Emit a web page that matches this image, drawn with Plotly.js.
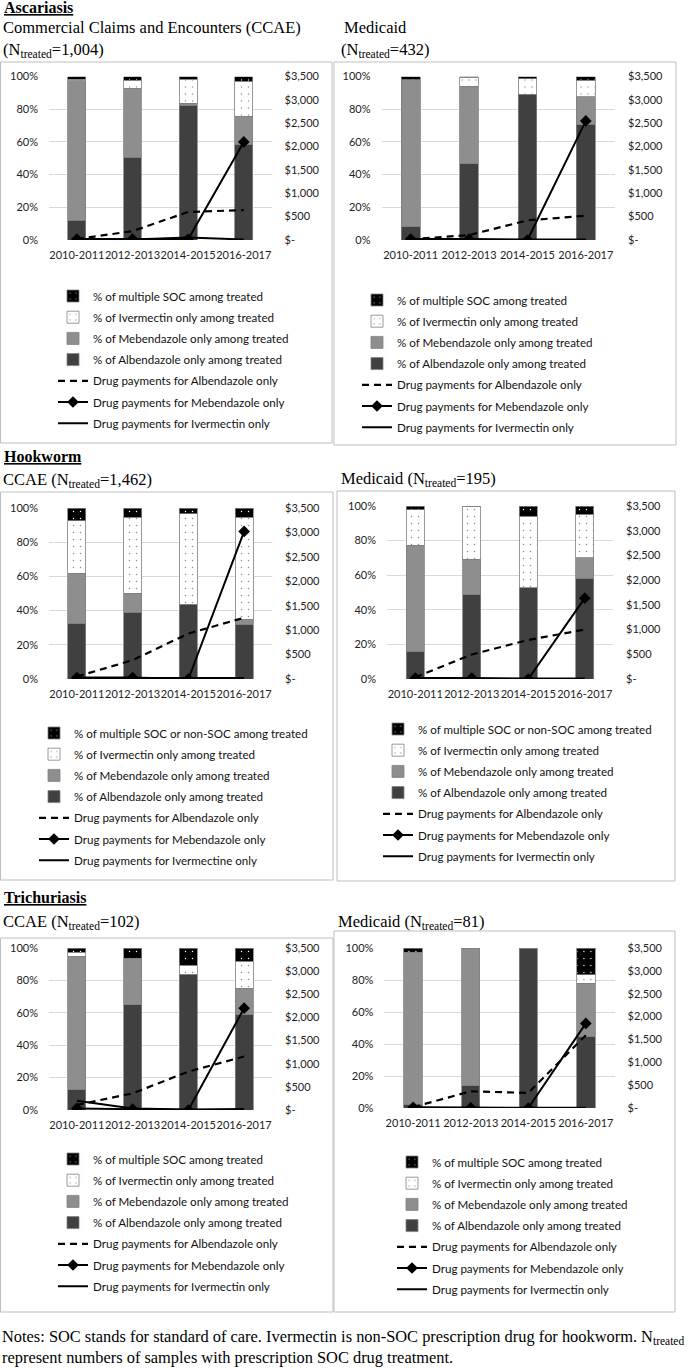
<!DOCTYPE html>
<html><head><meta charset="utf-8">
<script src="https://cdn.plot.ly/plotly-3.0.1.min.js"></script>
<style>html,body{margin:0;padding:0;background:#fff}#chart{width:693px;height:1371px}</style>
</head><body><div id="chart"></div>
<script>
// ---------- categories and tick labels ----------
const periods = ['2010-2011', '2012-2013', '2014-2015', '2016-2017'];
const pctTicks = [0, 20, 40, 60, 80, 100];
const pctLabels = ['0%', '20%', '40%', '60%', '80%', '100%'];
const usdTicks = [0, 500, 1000, 1500, 2000, 2500, 3000, 3500];
const usdLabels = ['$-', '$500', '$1,000', '$1,500', '$2,000', '$2,500', '$3,000', '$3,500'];

// ---------- Ascariasis: CCAE ----------
const ascCcaeAlbPct  = [12.0, 50.5, 82.5, 58.5];
const ascCcaeMebPct  = [85.5, 42.2, 1.0, 17.1];
const ascCcaeIvmPct  = [0.8, 5.1, 14.9, 21.5];
const ascCcaeMultPct = [1.7, 2.2, 1.6, 2.9];
const ascCcaeAlbPay  = [20, 190, 600, 640];
const ascCcaeMebPay  = [20, 20, 15, 2100];
const ascCcaeIvmPay  = [10, 10, 55, 10];

// ---------- Ascariasis: Medicaid ----------
const ascMcdAlbPct  = [8.0, 46.6, 89.0, 70.9];
const ascMcdMebPct  = [90.0, 47.5, 0, 16.7];
const ascMcdIvmPct  = [0, 5.5, 9.6, 10.2];
const ascMcdMultPct = [2.0, 0.4, 1.4, 2.2];
const ascMcdAlbPay  = [15, 105, 420, 520];
const ascMcdMebPay  = [20, 20, 0, 2550];
const ascMcdIvmPay  = [10, 10, 10, 10];

// ---------- Hookworm: CCAE ----------
const hookCcaeAlbPct  = [32.5, 39.1, 43.6, 32.1];
const hookCcaeMebPct  = [29.3, 11.0, 0, 2.9];
const hookCcaeIvmPct  = [30.8, 44.6, 53.1, 59.7];
const hookCcaeMultPct = [7.4, 5.3, 3.3, 5.3];
const hookCcaeAlbPay  = [50, 385, 930, 1255];
const hookCcaeMebPay  = [30, 30, 0, 3020];
const hookCcaeIvmPay  = [20, 20, 20, 20];

// ---------- Hookworm: Medicaid ----------
const hookMcdAlbPct  = [16.1, 48.8, 52.7, 58.2];
const hookMcdMebPct  = [61.1, 20.3, 0, 12.0];
const hookMcdIvmPct  = [20.7, 30.9, 41.3, 24.9];
const hookMcdMultPct = [2.1, 0, 6.0, 4.9];
const hookMcdAlbPay  = [35, 495, 790, 1000];
const hookMcdMebPay  = [20, 20, 0, 1635];
const hookMcdIvmPay  = [10, 10, 10, 10];

// ---------- Trichuriasis: CCAE ----------
const triCcaeAlbPct  = [12.4, 65.0, 83.9, 58.8];
const triCcaeMebPct  = [82.5, 28.8, 0, 16.5];
const triCcaeIvmPct  = [2.5, 0, 5.4, 16.5];
const triCcaeMultPct = [2.6, 6.2, 10.7, 8.2];
const triCcaeAlbPay  = [110, 360, 830, 1155];
const triCcaeMebPay  = [35, 20, 0, 2200];
const triCcaeIvmPay  = [200, 30, 10, 20];

// ---------- Trichuriasis: Medicaid ----------
const triMcdAlbPct  = [2.1, 13.8, 100, 44.6];
const triMcdMebPct  = [95.4, 86.2, 0, 33.4];
const triMcdIvmPct  = [0, 0, 0, 5.3];
const triMcdMultPct = [2.5, 0, 0, 16.7];
const triMcdAlbPay  = [20, 365, 330, 1590];
const triMcdMebPay  = [15, 5, 0, 1850];
const triMcdIvmPay  = [5, 5, 5, 5];

// ---------- series names ----------
const namesStd = ['% of Albendazole only among treated', '% of Mebendazole only among treated',
  '% of Ivermectin only among treated', '% of multiple SOC among treated',
  'Drug payments for Albendazole only', 'Drug payments for Mebendazole only', 'Drug payments for Ivermectin only'];
const namesHookCcae = ['% of Albendazole only among treated', '% of Mebendazole only among treated',
  '% of Ivermectin only among treated', '% of multiple SOC or non-SOC among treated',
  'Drug payments for Albendazole only', 'Drug payments for Mebendazole only', 'Drug payments for Ivermectine only'];
const namesHookMcd = ['% of Albendazole only among treated', '% of Mebendazole only among treated',
  '% of Ivermectin only among treated', '% of multiple SOC or non-SOC among treated',
  'Drug payments for Albendazole only', 'Drug payments for Mebendazole only', 'Drug payments for Ivermectin only'];

// ---------- page geometry ----------
const W = 693, H = 1371;
const fx = p => p / W;
const fy = p => 1 - p / H;

const panels = [
  {pct: [ascCcaeAlbPct, ascCcaeMebPct, ascCcaeIvmPct, ascCcaeMultPct], pay: [ascCcaeAlbPay, ascCcaeMebPay, ascCcaeIvmPay], names: namesStd,
   xd: [49, 271.6], yd: [76.5, 240], leg: [93, 296], box: [0.5, 62, 332, 443]},
  {pct: [ascMcdAlbPct, ascMcdMebPct, ascMcdIvmPct, ascMcdMultPct], pay: [ascMcdAlbPay, ascMcdMebPay, ascMcdIvmPay], names: namesStd,
   xd: [381.5, 615], yd: [76.5, 240], leg: [397, 300], box: [334, 62, 676, 445]},
  {pct: [hookCcaeAlbPct, hookCcaeMebPct, hookCcaeIvmPct, hookCcaeMultPct], pay: [hookCcaeAlbPay, hookCcaeMebPay, hookCcaeIvmPay], names: namesHookCcae,
   xd: [49, 272], yd: [508, 679], leg: [74, 733], box: [0.5, 492, 333, 880]},
  {pct: [hookMcdAlbPct, hookMcdMebPct, hookMcdIvmPct, hookMcdMultPct], pay: [hookMcdAlbPay, hookMcdMebPay, hookMcdIvmPay], names: namesHookMcd,
   xd: [387, 613], yd: [506, 679], leg: [418, 729], box: [337, 491, 675, 881]},
  {pct: [triCcaeAlbPct, triCcaeMebPct, triCcaeIvmPct, triCcaeMultPct], pay: [triCcaeAlbPay, triCcaeMebPay, triCcaeIvmPay], names: namesStd,
   xd: [49, 272], yd: [948, 1110], leg: [93, 1159], box: [0.5, 938, 333, 1312]},
  {pct: [triMcdAlbPct, triMcdMebPct, triMcdIvmPct, triMcdMultPct], pay: [triMcdAlbPay, triMcdMebPay, triMcdIvmPay], names: namesStd,
   xd: [384.4, 614.6], yd: [948, 1108], leg: [432, 1162], box: [334, 931, 675, 1312]}
];

const C = {alb: '#404040', meb: '#8e8e8e', edge: '#808080', grid: '#d9d9d9', box: '#bfbfbf'};
const barMarkers = [
  {color: C.alb},
  {color: C.meb},
  {color: '#ffffff', pattern: {shape: '.', fgcolor: '#8c8c8c', bgcolor: '#ffffff', size: 7, solidity: 0.035}},
  {color: '#000000', pattern: {shape: '.', fgcolor: '#ffffff', bgcolor: '#000000', size: 7, solidity: 0.03}}
];
const barRanks = [4, 3, 2, 1];

const data = [];
const layout = {
  width: W, height: H, autosize: false,
  margin: {l: 0, r: 0, t: 0, b: 0},
  paper_bgcolor: '#ffffff', plot_bgcolor: 'rgba(0,0,0,0)',
  barmode: 'stack', bargap: 0.68,
  font: {family: 'Lato, sans-serif', size: 11, color: '#000'},
  hovermode: false,
  annotations: [], shapes: []
};

panels.forEach((p, i) => {
  const n = i + 1;
  const sfx = n === 1 ? '' : String(n);
  const xa = 'x' + sfx, ya = 'y' + sfx, yb = 'y' + (n + 6);
  const lg = 'legend' + sfx;

  p.pct.forEach((vals, k) => {
    data.push({
      type: 'bar', x: periods, y: vals, name: p.names[k],
      xaxis: xa, yaxis: ya, legend: lg, legendgroup: 'g' + n + '_' + k, legendrank: barRanks[k],
      marker: Object.assign({line: {color: C.edge, width: 0.8}}, barMarkers[k])
    });
  });
  data.push({
    type: 'scatter', mode: 'lines', x: periods, y: p.pay[0], name: p.names[4],
    xaxis: xa, yaxis: yb, legend: lg, legendgroup: 'g' + n + '_4', legendrank: 5,
    line: {color: '#000', width: 2.2, dash: '7px,5px'}
  });
  data.push({
    type: 'scatter', mode: 'lines', x: periods, y: p.pay[2], name: p.names[6],
    xaxis: xa, yaxis: yb, legend: lg, legendgroup: 'g' + n + '_6', legendrank: 7,
    line: {color: '#000', width: 2}
  });
  data.push({
    type: 'scatter', mode: 'lines+markers', x: periods, y: p.pay[1], name: p.names[5],
    xaxis: xa, yaxis: yb, legend: lg, legendgroup: 'g' + n + '_5', legendrank: 6,
    line: {color: '#000', width: 2}, marker: {symbol: 'diamond', size: 9, color: '#000'}
  });

  layout['xaxis' + sfx] = {
    domain: [fx(p.xd[0]), fx(p.xd[1])], anchor: ya, type: 'category',
    tickmode: 'array', tickvals: periods, ticktext: periods, tickangle: 0,
    showgrid: false, zeroline: false, showline: false, ticks: '',
    tickfont: {family: 'Lato, sans-serif', size: 11, color: '#222'},
    ticklabelstandoff: 7, fixedrange: true, automargin: false
  };
  layout['yaxis' + sfx] = {
    domain: [fy(p.yd[1]), fy(p.yd[0])], anchor: xa, range: [0, 100],
    tickmode: 'array', tickvals: pctTicks, ticktext: pctLabels,
    showgrid: true, gridcolor: C.grid, gridwidth: 1, zeroline: false, showline: false, ticks: '',
    tickfont: {family: 'Lato, sans-serif', size: 11, color: '#222'},
    ticklabelstandoff: 10, fixedrange: true, automargin: false
  };
  layout['yaxis' + (n + 6)] = {
    overlaying: ya, side: 'right', anchor: xa, range: [0, 3500],
    tickmode: 'array', tickvals: usdTicks, ticktext: usdLabels,
    showgrid: false, zeroline: false, showline: false, ticks: '',
    tickfont: {family: 'Lato, sans-serif', size: 11, color: '#222'},
    ticklabelstandoff: 12, fixedrange: true, automargin: false
  };
  layout[lg] = {
    x: fx(p.leg[0] - 40), y: fy(p.leg[1] - 14.5), xanchor: 'left', yanchor: 'top',
    bgcolor: 'rgba(0,0,0,0)', borderwidth: 0,
    font: {family: 'Lato, sans-serif', size: 11.6, color: '#111'},
    traceorder: 'grouped', tracegroupgap: 2.2, itemwidth: 30, itemclick: false, itemdoubleclick: false
  };
  layout.shapes.push({
    type: 'rect', xref: 'paper', yref: 'paper', layer: 'below',
    x0: fx(p.box[0]), x1: fx(p.box[2]), y0: fy(p.box[3]), y1: fy(p.box[1]),
    line: {color: C.box, width: 1}, fillcolor: 'rgba(0,0,0,0)'
  });
});

// ---------- titles ----------
const serif = 'Liberation Serif, Times New Roman, serif';
const titles = [
  {t: '<b><u>Ascariasis</u></b>', x: 2, y: 8, s: 16},
  {t: 'Commercial Claims and Encounters (CCAE)', x: 1, y: 28, s: 16.5},
  {t: '(N<sub>treated</sub>=1,004)', x: 1, y: 50, s: 16.5},
  {t: 'Medicaid', x: 342, y: 28, s: 16.5},
  {t: '(N<sub>treated</sub>=432)', x: 339, y: 50, s: 16.5},
  {t: '<b><u>Hookworm</u></b>', x: 2, y: 457, s: 16},
  {t: 'CCAE (N<sub>treated</sub>=1,462)', x: 1, y: 480, s: 16.5},
  {t: 'Medicaid (N<sub>treated</sub>=195)', x: 339, y: 479, s: 16.5},
  {t: '<b><u>Trichuriasis</u></b>', x: 2, y: 897, s: 16},
  {t: 'CCAE (N<sub>treated</sub>=102)', x: 1, y: 922, s: 16.5},
  {t: 'Medicaid (N<sub>treated</sub>=81)', x: 336, y: 922, s: 16.5},
  {t: 'Notes: SOC stands for standard of care. Ivermectin is non-SOC prescription drug for hookworm. N<sub>treated</sub><br>represent numbers of samples with prescription SOC drug treatment.', x: 0, y: 1347, s: 16.4}
];
titles.forEach(o => layout.annotations.push({
  text: o.t, xref: 'paper', yref: 'paper', x: fx(o.x), y: fy(o.y),
  xanchor: 'left', yanchor: 'middle', align: 'left', showarrow: false,
  font: {family: serif, size: o.s, color: '#000'}
}));

Plotly.newPlot('chart', data, layout, {staticPlot: true, displayModeBar: false});
</script></body></html>
